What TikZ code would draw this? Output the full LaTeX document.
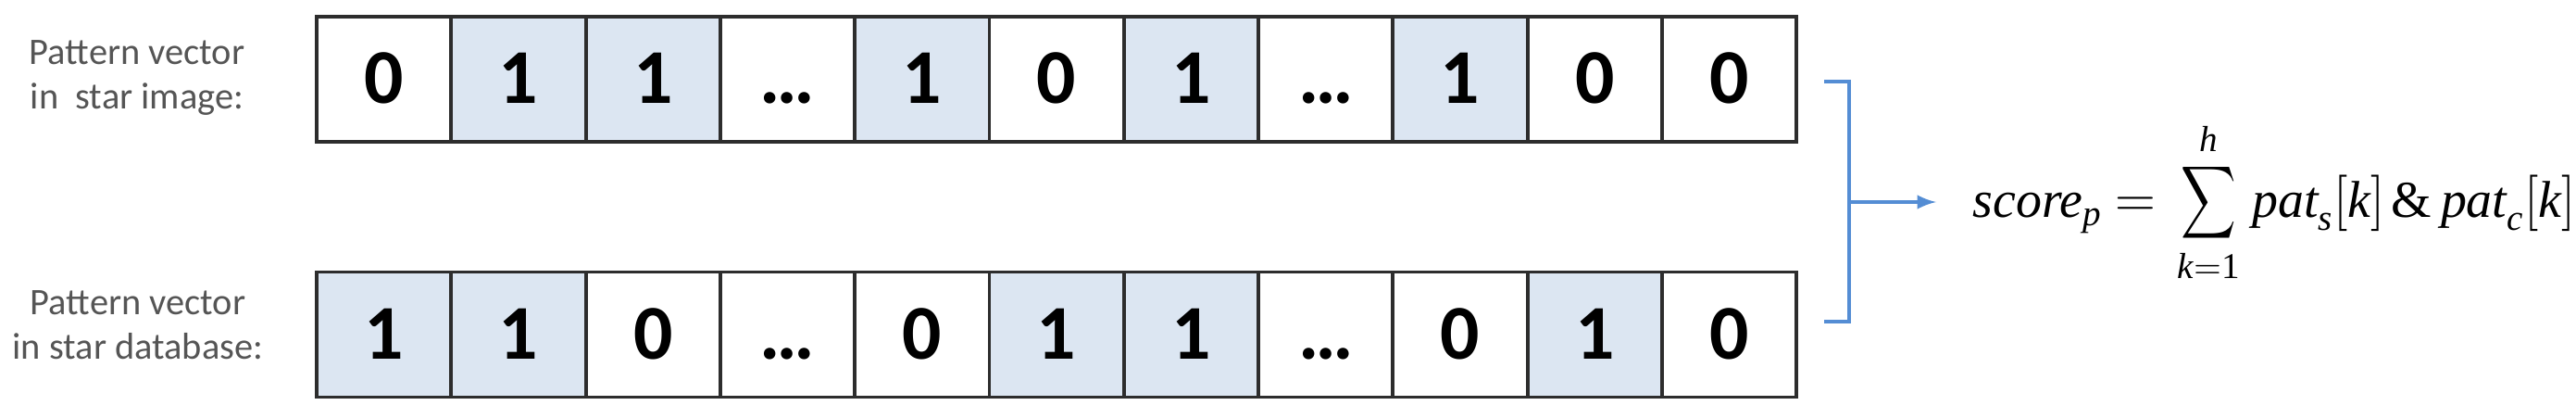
\documentclass[tikz,border=0pt]{standalone}
\usepackage{amsmath}
\usepackage{graphicx}
\usepackage[no-math]{fontspec}
\setmainfont{Carlito}
\newfontfamily\formulaFont{Liberation Serif}
\usepackage{tikz}
\usetikzlibrary{arrows, calc, positioning}
\definecolor{cellBlue}{RGB}{220,230,242}
\definecolor{cellBorder}{RGB}{45,45,45}
\definecolor{labelGray}{RGB}{85,85,85}
\definecolor{bracketBlue}{RGB}{84,141,212}
\newcommand{\digitFont}{\fontsize{23.8}{28}\selectfont\bfseries}
\newcommand{\labelFont}{\fontsize{11.5}{13.65}\selectfont}
% italic variable in Times-like serif
\newcommand{\vi}[1]{\text{\formulaFont\itshape #1}}
\newcommand{\vu}[1]{\text{\formulaFont #1}}
% narrow tall sum sign
\newcommand{\narrowSum}{\mathop{\vcenter{\hbox{\scalebox{0.68}[0.9]{$\displaystyle\sum$}}}}\limits}
\tikzset{
    cell0/.style={rectangle, draw=cellBorder, line width=1.1pt, fill=white, minimum width=1.453cm, minimum height=1.35cm, inner sep=0pt, outer sep=0pt, text height=0.53cm, text depth=0pt, font=\digitFont},
    cell1/.style={cell0, fill=cellBlue},
    vecLabel/.style={align=center, text=labelGray, font=\labelFont, inner sep=0pt},
    bracketLine/.style={draw=bracketBlue, line width=1pt},
    bracketArrow/.style={->, >=latex, draw=bracketBlue, fill=bracketBlue, line width=1pt},
}

\begin{document}
\begin{tikzpicture}
    \useasboundingbox (0,0) rectangle (27.82,4.5);

    % pattern vector of the star image
    \node[vecLabel] (imgLabel) at (1.48, 3.66) {Pattern vector\\in\ \ star image:};
    \node[cell0] (img1) at (4.1465, 3.645) {0};
    \node[cell1, right=0pt of img1] (img2) {1};
    \node[cell1, right=0pt of img2] (img3) {1};
    \node[cell0, right=0pt of img3] (img4) {…};
    \node[cell1, right=0pt of img4] (img5) {1};
    \node[cell0, right=0pt of img5] (img6) {0};
    \node[cell1, right=0pt of img6] (img7) {1};
    \node[cell0, right=0pt of img7] (img8) {…};
    \node[cell1, right=0pt of img8] (img9) {1};
    \node[cell0, right=0pt of img9] (img10) {0};
    \node[cell0, right=0pt of img10] (img11) {0};

    % pattern vector of the star database
    \node[vecLabel] (dbLabel) at (1.49, 0.99) {Pattern vector\\in star database:};
    \node[cell1] (db1) at (4.1465, 0.89) {1};
    \node[cell1, right=0pt of db1] (db2) {1};
    \node[cell0, right=0pt of db2] (db3) {0};
    \node[cell0, right=0pt of db3] (db4) {…};
    \node[cell0, right=0pt of db4] (db5) {0};
    \node[cell1, right=0pt of db5] (db6) {1};
    \node[cell1, right=0pt of db6] (db7) {1};
    \node[cell0, right=0pt of db7] (db8) {…};
    \node[cell0, right=0pt of db8] (db9) {0};
    \node[cell1, right=0pt of db9] (db10) {1};
    \node[cell0, right=0pt of db10] (db11) {0};

    % bracket and score
    \coordinate (brTop) at (19.70, 3.62);
    \coordinate (brBot) at (19.70, 1.03);
    \coordinate (brMid) at (19.97, 2.32);
    \node[anchor=west, inner xsep=0.39cm, inner ysep=0pt, font=\fontsize{15.9}{19}\selectfont] (score) at (20.91, 2.32)
        {$\vi{score}_{\vi{p}}\mkern4mu{=}\mkern4mu\narrowSum_{\vi{k}=\vu{1}}^{\vi{h}}\mkern1mu\vi{pat}_{\vi{s}}[\vi{k}]\mkern2mu\vu{\&}\mkern3mu\vi{pat}_{\vi{c}}[\vi{k}]$};

    \draw[bracketLine] (brTop) -- ++(0.27, 0) |- (brBot);
    \draw[bracketArrow] (brMid) -- (score.west);

\end{tikzpicture}
\end{document}
